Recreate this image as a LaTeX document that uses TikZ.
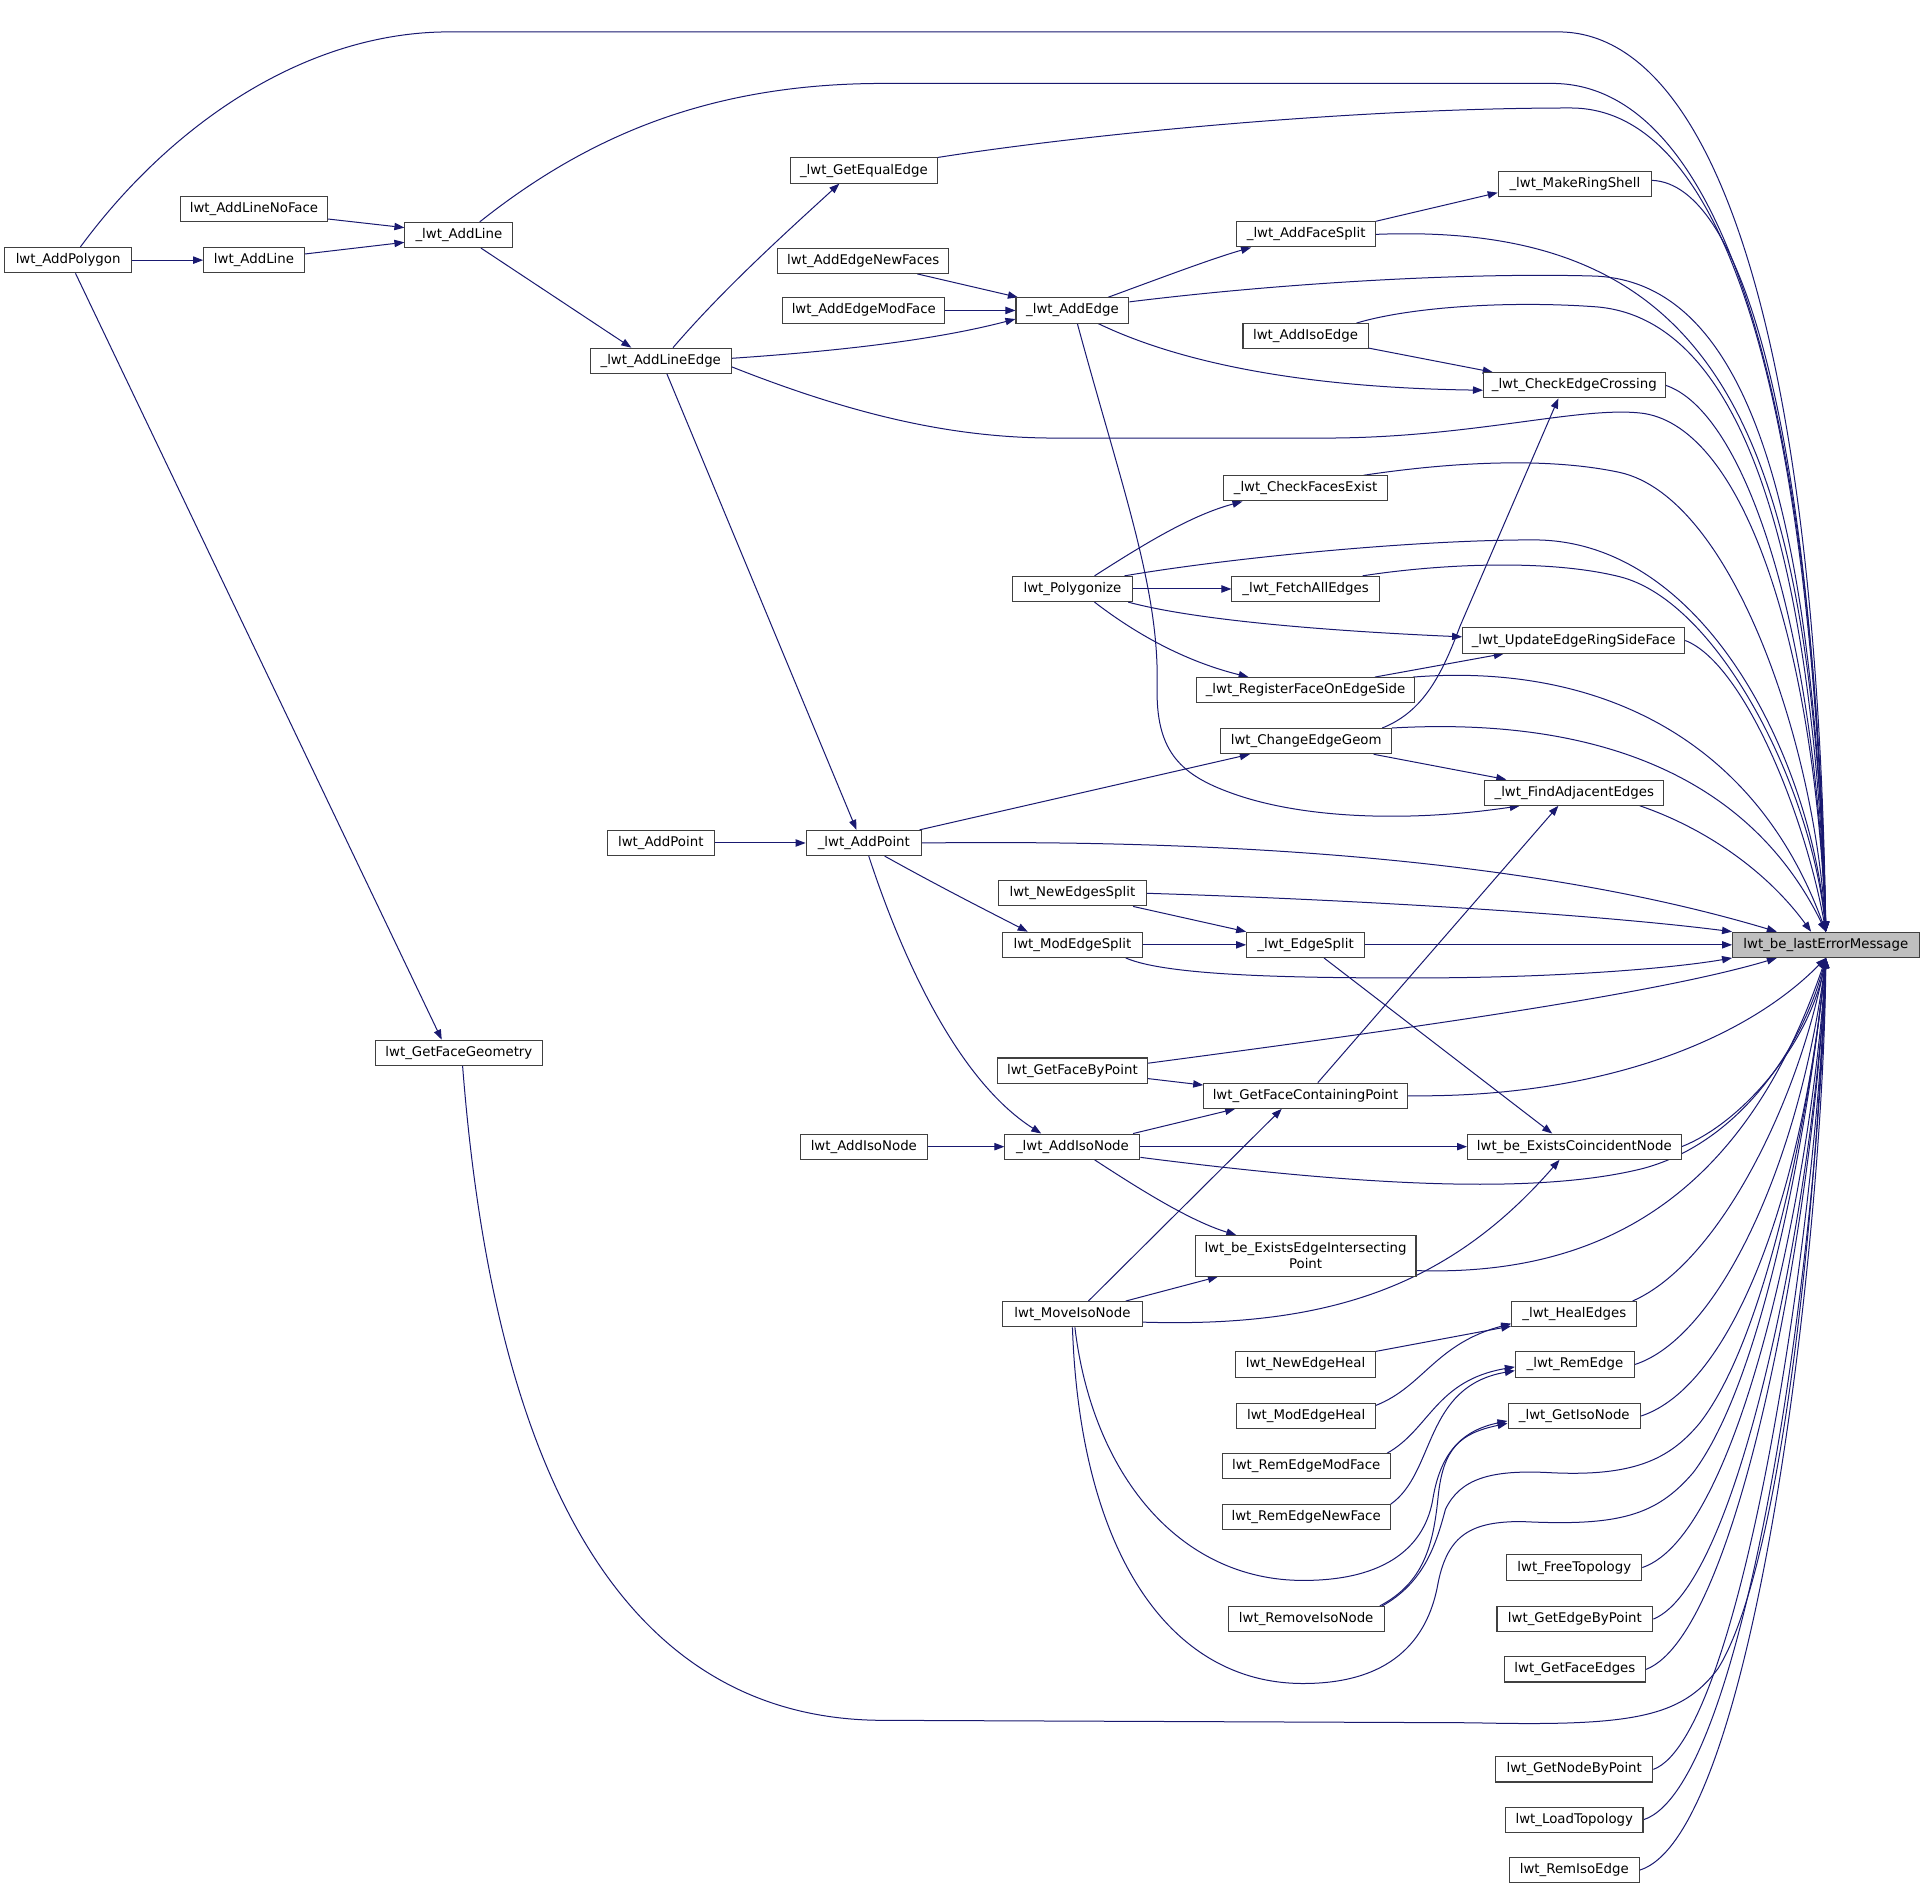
\documentclass[tikz,border=0pt]{standalone}
\usepackage{fontspec}
\setmainfont{DejaVu Sans}
\usetikzlibrary{arrows.meta,calc}
\definecolor{mb}{HTML}{191970}
\definecolor{bd}{HTML}{404040}
\pgfdeclarelayer{bgfill}
\pgfdeclarelayer{edges}
\pgfsetlayers{bgfill,edges,main}
\tikzset{
  fn/.style={draw=bd, line width=0.8pt, fill=white, inner xsep=2pt, inner ysep=0pt,
    minimum height=18.9pt, font=\fontsize{10pt}{12pt}\selectfont},
  w/.style={minimum width=#1*0.9204pt},
  cl/.style={draw=mb, line width=0.75pt, -{Triangle[length=7.5pt,width=5.5pt]}},
}
\begin{document}
\begin{tikzpicture}[x=0.9204pt,y=-0.9204pt]
\useasboundingbox (0,0) rectangle (1568,1541);
\begin{pgfonlayer}{bgfill}
\fill[white] (0,0) rectangle (1568,1541);
\end{pgfonlayer}
% nodes
\node[fn,w=103] (pol) at (55.5,212) {lwt\_AddPolygon};
\node[fn,w=120] (alnf) at (207,170.5) {lwt\_AddLineNoFace};
\node[fn,w=88] (ual) at (374,191.5) {\_lwt\_AddLine};
\node[fn,w=82] (al) at (207,212) {lwt\_AddLine};
\node[fn,w=120] (gee) at (704,139) {\_lwt\_GetEqualEdge};
\node[fn,w=115] (ale) at (538.5,294) {\_lwt\_AddLineEdge};
\node[fn,w=125] (mrs) at (1283.5,150) {\_lwt\_MakeRingShell};
\node[fn,w=113] (afs) at (1064.5,191) {\_lwt\_AddFaceSplit};
\node[fn,w=139] (aenf) at (703.5,212.5) {lwt\_AddEdgeNewFaces};
\node[fn,w=132] (aemf) at (704,253) {lwt\_AddEdgeModFace};
\node[fn,w=92] (ae) at (874,253) {\_lwt\_AddEdge};
\node[fn,w=102] (aie) at (1064,274) {lwt\_AddIsoEdge};
\node[fn,w=148] (cec) at (1283,314) {\_lwt\_CheckEdgeCrossing};
\node[fn,w=134] (cfe) at (1064,398) {\_lwt\_CheckFacesExist};
\node[fn,w=98] (poly) at (874,480) {lwt\_Polygonize};
\node[fn,w=120] (fae) at (1064,480) {\_lwt\_FetchAllEdges};
\node[fn,w=181] (uers) at (1282.5,522) {\_lwt\_UpdateEdgeRingSideFace};
\node[fn,w=178] (rfes) at (1064,562.5) {\_lwt\_RegisterFaceOnEdgeSide};
\node[fn,w=139] (ceg) at (1064.5,604) {lwt\_ChangeEdgeGeom};
\node[fn,w=146] (fade) at (1283,646) {\_lwt\_FindAdjacentEdges};
\node[fn,w=87] (apt) at (538.5,687) {lwt\_AddPoint};
\node[fn,w=94] (uapt) at (704,687) {\_lwt\_AddPoint};
\node[fn,w=120] (nes) at (874,728) {lwt\_NewEdgesSplit};
\node[fn,w=114] (mes) at (874,770) {lwt\_ModEdgeSplit};
\node[fn,w=96] (es) at (1064,770) {\_lwt\_EdgeSplit};
\node[fn,w=152,fill=gray!50] (err) at (1488,770) {lwt\_be\_lastErrorMessage};
\node[fn,w=136] (gfg) at (374,858) {lwt\_GetFaceGeometry};
\node[fn,w=122] (gfbp) at (874,872.5) {lwt\_GetFaceByPoint};
\node[fn,w=166] (gfcp) at (1064,893) {lwt\_GetFaceContainingPoint};
\node[fn,w=104] (aisn) at (704,934.5) {lwt\_AddIsoNode};
\node[fn,w=110] (uaisn) at (874,934.5) {\_lwt\_AddIsoNode};
\node[fn,w=174] (ecn) at (1283,934.5) {lwt\_be\_ExistsCoincidentNode};
\node[fn,w=180,minimum height=30.4pt,align=center] (eeip) at (1064,1023.5) {lwt\_be\_ExistsEdgeIntersecting\\Point};
\node[fn,w=114] (misn) at (874,1071) {lwt\_MoveIsoNode};
\node[fn,w=102] (he) at (1283,1071) {\_lwt\_HealEdges};
\node[fn,w=114] (neh) at (1064,1112) {lwt\_NewEdgeHeal};
\node[fn,w=97] (re) at (1283.5,1112) {\_lwt\_RemEdge};
\node[fn,w=113] (meh) at (1064.5,1154) {lwt\_ModEdgeHeal};
\node[fn,w=108] (gin) at (1283,1154) {\_lwt\_GetIsoNode};
\node[fn,w=137] (remf) at (1064.5,1195) {lwt\_RemEdgeModFace};
\node[fn,w=137] (renf) at (1064.5,1236.5) {lwt\_RemEdgeNewFace};
\node[fn,w=110] (ft) at (1283,1277.5) {lwt\_FreeTopology};
\node[fn,w=127] (rmin) at (1064.5,1319.5) {lwt\_RemoveIsoNode};
\node[fn,w=127] (gebp) at (1283.5,1319.5) {lwt\_GetEdgeByPoint};
\node[fn,w=115] (gfe) at (1283.5,1360.5) {lwt\_GetFaceEdges};
\node[fn,w=128] (gnbp) at (1283,1442) {lwt\_GetNodeByPoint};
\node[fn,w=112] (lt) at (1283,1483) {lwt\_LoadTopology};
\node[fn,w=106] (rie) at (1283,1524) {lwt\_RemIsoEdge};
% edges
\begin{pgfonlayer}{edges}
\draw[cl] (pol.east) -- (al.west);
\draw[cl] ($(al.east)+(0,-5)$) -- ($(ual.west)+(0,6)$);
\draw[cl] ($(alnf.east)+(0,8)$) -- ($(ual.west)+(0,-6)$);
\draw[cl] ($(pol.south)+(6,0)$) -- ($(gfg.north)+(-14,0)$);
\draw[cl] ($(pol.north)+(10,0)$) .. controls (140,100) and (250,26) .. (366,26) -- (1270,26) .. controls (1390,26) and (1480,250) .. (err.north);
\draw[cl] ($(ual.north)+(17,0)$) .. controls (480,110) and (580,68) .. (720,68) -- (1265,68) .. controls (1390,68) and (1478,280) .. (err.north);
\draw[cl] ($(ual.south)+(18,0)$) -- ($(ale.north)+(-24,0)$);
\draw[cl] ($(ale.north)+(10,0)$) .. controls (590,235) and (640,190) .. ($(gee.south)+(-20,0)$);
\draw[cl] (gee.north east) .. controls (880,110) and (1100,88) .. (1280,88) .. controls (1400,88) and (1476,300) .. (err.north);
\draw[cl] ($(ale.east)+(0,-2)$) .. controls (700,285) and (770,275) .. ($(ae.west)+(0,7)$);
\draw[cl] ($(ale.east)+(0,5)$) .. controls (700,340) and (780,357) .. (860,357) -- (1080,357) .. controls (1200,357) and (1290,330) .. (1340,337) .. controls (1420,350) and (1478,520) .. (err.north);
\draw[cl] ($(ale.south)+(5,0)$) -- ($(uapt.north)+(-6,0)$);
\draw[cl] ($(aenf.south east)+(-26,0)$) -- ($(ae.north west)+(2,0)$);
\draw[cl] (aemf.east) -- (ae.west);
\draw[cl] ($(ae.north)+(29,0)$) .. controls (950,225) and (990,210) .. ($(afs.south west)+(12,0)$);
\draw[cl] (afs.north east) -- ($(mrs.west)+(0,7)$);
\draw[cl] ($(mrs.east)+(0,-3)$) .. controls (1420,150) and (1478,350) .. (err.north);
\draw[cl] (afs.east) .. controls (1400,180) and (1476,350) .. (err.north);
\draw[cl] ($(ae.east)+(0,-7)$) .. controls (1050,230) and (1200,222) .. (1300,225) .. controls (1420,230) and (1478,400) .. (err.north);
\draw[cl] ($(aie.north east)+(-10,0)$) .. controls (1150,250) and (1230,245) .. (1300,250) .. controls (1410,258) and (1476,420) .. (err.north);
\draw[cl] ($(ae.south)+(21,0)$) .. controls (960,295) and (1060,316) .. ($(cec.west)+(0,4)$);
\draw[cl] ($(aie.south east)+(0,-1)$) -- ($(cec.north west)+(8,0)$);
\draw[cl] (cec.east) .. controls (1420,335) and (1478,500) .. (err.north);
\draw[cl] ($(ceg.north east)+(-8,0)$) .. controls (1160,580) and (1175,550) .. (1190,510) -- ($(cec.south)+(-13,0)$);
\draw[cl] ($(ae.south)+(4,0)$) .. controls (915,400) and (945,480) .. (943,560) .. controls (942,610) and (960,630) .. (1000,645) .. controls (1060,668) and (1150,670) .. ($(fade.south west)+(29,0)$);
\draw[cl] ($(cfe.north east)+(-20,0)$) .. controls (1160,380) and (1250,370) .. (1320,385) .. controls (1410,405) and (1478,600) .. (err.north);
\draw[cl] ($(poly.north)+(18,0)$) .. controls (930,445) and (970,420) .. ($(cfe.south west)+(16,0)$);
\draw[cl] ($(poly.north east)+(-7,0)$) .. controls (1000,455) and (1150,440) .. (1250,440) .. controls (1390,440) and (1476,620) .. (err.north);
\draw[cl] (poly.east) -- (fae.west);
\draw[cl] ($(fae.north east)+(-14,0)$) .. controls (1170,460) and (1260,455) .. (1320,470) .. controls (1400,490) and (1476,640) .. (err.north);
\draw[cl] ($(poly.south east)+(-4,0)$) .. controls (980,507) and (1100,515) .. ($(uers.west)+(0,-3)$);
\draw[cl] ($(poly.south)+(18,0)$) .. controls (930,520) and (970,540) .. ($(rfes.north west)+(43,0)$);
\draw[cl] ($(rfes.north east)+(-33,0)$) -- ($(uers.south west)+(34,0)$);
\draw[cl] (uers.east) .. controls (1420,540) and (1470,660) .. (err.north);
\draw[cl] ($(rfes.north east)+(-2,0)$) .. controls (1300,540) and (1430,600) .. (err.north);
\draw[cl] (ceg.north east) .. controls (1280,585) and (1420,620) .. (err.north);
\draw[cl] ($(uapt.north east)+(-2,0)$) -- ($(ceg.south west)+(24,0)$);
\draw[cl] ($(ceg.south east)+(-15,0)$) -- ($(fade.north west)+(18,0)$);
\draw[cl] ($(fade.south east)+(-20,0)$) .. controls (1390,675) and (1440,710) .. ($(err.north)+(-12,0)$);
\draw[cl] ($(gfcp.north)+(10,0)$) -- ($(fade.south)+(-13,0)$);
\draw[cl] (apt.east) -- (uapt.west);
\draw[cl] (uapt.east) .. controls (1000,684) and (1250,700) .. (err.165);
\draw[cl] ($(uapt.south)+(17,0)$) .. controls (770,725) and (810,745) .. ($(mes.north west)+(21,0)$);
\draw[cl] ($(uapt.south)+(4,0)$) .. controls (735,780) and (780,880) .. ($(uaisn.north west)+(30,0)$);
\draw[cl] ($(nes.south east)+(-11,0)$) -- (es.north west);
\draw[cl] (nes.east) .. controls (1100,733) and (1300,745) .. (err.north west);
\draw[cl] (mes.east) -- (es.west);
\draw[cl] (es.east) -- (err.west);
\draw[cl] ($(mes.south east)+(-14,0)$) .. controls (950,795) and (1050,797) .. (1150,797) .. controls (1280,797) and (1370,788) .. (err.south west);
\draw[cl] ($(es.south)+(15,0)$) -- ($(ecn.north)+(-18,0)$);
\draw[cl] ($(gfbp.east)+(0,-6)$) .. controls (1150,838) and (1350,810) .. (err.195);
\draw[cl] ($(gfbp.east)+(0,6.5)$) -- ($(gfcp.north west)+(0,2)$);
\draw[cl] (gfcp.east) .. controls (1300,895) and (1420,850) .. (err.south);
\draw[cl] ($(uaisn.north east)+(-6,0)$) -- ($(gfcp.south west)+(26,0)$);
\draw[cl] ($(misn.north)+(13,0)$) -- ($(gfcp.south west)+(64,0)$);
\draw[cl] (aisn.east) -- (uaisn.west);
\draw[cl] (uaisn.east) -- (ecn.west);
\draw[cl] ($(uaisn.south east)+(0,-2)$) .. controls (1100,965) and (1250,975) .. (1340,952) .. controls (1420,930) and (1470,850) .. (err.south);
\draw[cl] ($(uaisn.south)+(18,0)$) .. controls (930,970) and (970,995) .. ($(eeip.north west)+(34,0)$);
\draw[cl] ($(misn.north east)+(-14,0)$) -- ($(eeip.south west)+(19,0)$);
\draw[cl] ($(misn.east)+(0,6.5)$) .. controls (1080,1082) and (1180,1050) .. ($(ecn.south)+(-12,0)$);
\draw[cl] (ecn.east) .. controls (1420,915) and (1475,850) .. (err.south);
\draw[cl] ($(eeip.east)+(0,12)$) .. controls (1300,1040) and (1420,980) .. (err.south);
\draw[cl] ($(gfg.south)+(3,0)$) .. controls (395,1100) and (460,1402) .. (720,1402) -- (1200,1404) .. controls (1330,1407) and (1370,1400) .. (1400,1360) .. controls (1450,1280) and (1480,1000) .. (err.south);
\draw[cl] (neh.north east) -- ($(he.south west)+(0,-1)$);
\draw[cl] ($(meh.north east)+(0,2)$) .. controls (1160,1130) and (1170,1095) .. ($(he.south west)+(0,-3)$);
\draw[cl] ($(he.north east)+(-4,0)$) .. controls (1400,1030) and (1465,900) .. (err.south);
\draw[cl] ($(remf.north east)+(-3,0)$) .. controls (1165,1165) and (1170,1125) .. ($(re.west)+(0,2)$);
\draw[cl] (renf.north east) .. controls (1170,1200) and (1160,1130) .. ($(re.west)+(0,5)$);
\draw[cl] (re.east) .. controls (1400,1090) and (1466,950) .. (err.south);
\draw[cl] (gin.east) .. controls (1410,1130) and (1468,980) .. (err.south);
\draw[cl] ($(misn.south)+(2,0)$) .. controls (890,1200) and (960,1288) .. (1062,1288) .. controls (1130,1288) and (1162,1260) .. (1168,1220) .. controls (1175,1180) and (1195,1165) .. ($(gin.west)+(0,4)$);
\draw[cl] (misn.south) .. controls (880,1260) and (950,1372) .. (1062,1372) .. controls (1140,1372) and (1165,1330) .. (1172,1290) .. controls (1180,1250) and (1200,1240) .. (1240,1240) .. controls (1320,1244) and (1350,1235) .. (1380,1200) .. controls (1440,1120) and (1476,900) .. (err.south);
\draw[cl] ($(rmin.north east)+(-4,0)$) .. controls (1160,1290) and (1168,1260) .. (1172,1220) .. controls (1176,1180) and (1190,1168) .. ($(gin.west)+(0,6)$);
\draw[cl] ($(rmin.north east)+(-2,0)$) .. controls (1160,1290) and (1170,1260) .. (1178,1230) .. controls (1190,1205) and (1215,1198) .. (1260,1200) .. controls (1330,1204) and (1360,1190) .. (1385,1160) .. controls (1440,1090) and (1476,900) .. (err.south);
\draw[cl] (ft.east) .. controls (1420,1250) and (1478,950) .. (err.south);
\draw[cl] (gebp.east) .. controls (1420,1290) and (1480,960) .. (err.south);
\draw[cl] (gfe.east) .. controls (1420,1330) and (1480,970) .. (err.south);
\draw[cl] (gnbp.east) .. controls (1420,1415) and (1482,990) .. (err.south);
\draw[cl] (lt.east) .. controls (1425,1455) and (1484,1000) .. (err.south);
\draw[cl] (rie.east) .. controls (1430,1495) and (1486,1010) .. (err.south);
\end{pgfonlayer}
\end{tikzpicture}
\end{document}
